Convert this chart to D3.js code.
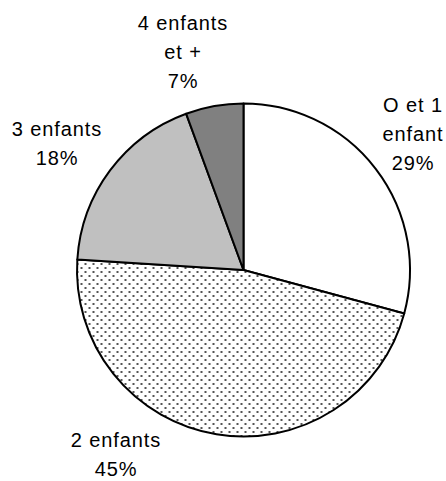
<!DOCTYPE html>
<html>
<head>
<meta charset="utf-8">
<script src="https://cdn.jsdelivr.net/npm/d3@7"></script>
<style>
  html, body { margin: 0; padding: 0; background: #fff; }
  svg { display: block; }
  text { font-family: "Liberation Sans", Arial, sans-serif; font-size: 20px; letter-spacing: 0.9px; fill: #000; }
</style>
</head>
<body>
<svg id="chart" width="446" height="481"></svg>
<script>
// Data (slice sizes; labels as printed on the chart)
const categories = ["O et 1 enfant", "2 enfants", "3 enfants", "4 enfants et +"];
const values = [29.2, 46.8, 18.4, 5.6];
const labelLines = [["O et 1", "enfant", "29%"], ["2 enfants", "45%"], ["3 enfants", "18%"], ["4 enfants", "et +", "7%"]];

// Layout (separate from data)
const W = 446, H = 481;
const cx = 243.5, cy = 270, R = 166.5;
const fills = ["#ffffff", "url(#dots)", "#c0c0c0", "#808080"];
const labelAnchor = [[413, 112], [116, 447], [57, 136], [183, 30]]; // first-line baseline
const lineStep = 29.2;

const svg = d3.select("#chart");
const defs = svg.append("defs");
const pat = defs.append("pattern")
  .attr("id", "dots").attr("patternUnits", "userSpaceOnUse")
  .attr("width", 8).attr("height", 8);
pat.append("rect").attr("width", 8).attr("height", 8).attr("fill", "#fff");
pat.append("rect").attr("x", 1).attr("y", 1).attr("width", 2).attr("height", 2).attr("fill", "#555");
pat.append("rect").attr("x", 5).attr("y", 5).attr("width", 2).attr("height", 2).attr("fill", "#555");

const pie = d3.pie().sort(null).value(d => d);
const arcs = pie(values);
const arc = d3.arc().innerRadius(0).outerRadius(R);

const g = svg.append("g").attr("transform", `translate(${cx},${cy})`);
g.selectAll("path")
  .data(arcs)
  .join("path")
  .attr("d", arc)
  .attr("fill", (d, i) => fills[i])
  .attr("stroke", "#000")
  .attr("stroke-width", 2)
  .attr("stroke-linejoin", "round");

const lg = svg.append("g");
labelLines.forEach((lines, i) => {
  const t = lg.append("text").attr("text-anchor", "middle");
  lines.forEach((ln, j) => {
    t.append("tspan")
      .attr("x", labelAnchor[i][0])
      .attr("y", labelAnchor[i][1] + j * lineStep)
      .text(ln);
  });
});
</script>
</body>
</html>
